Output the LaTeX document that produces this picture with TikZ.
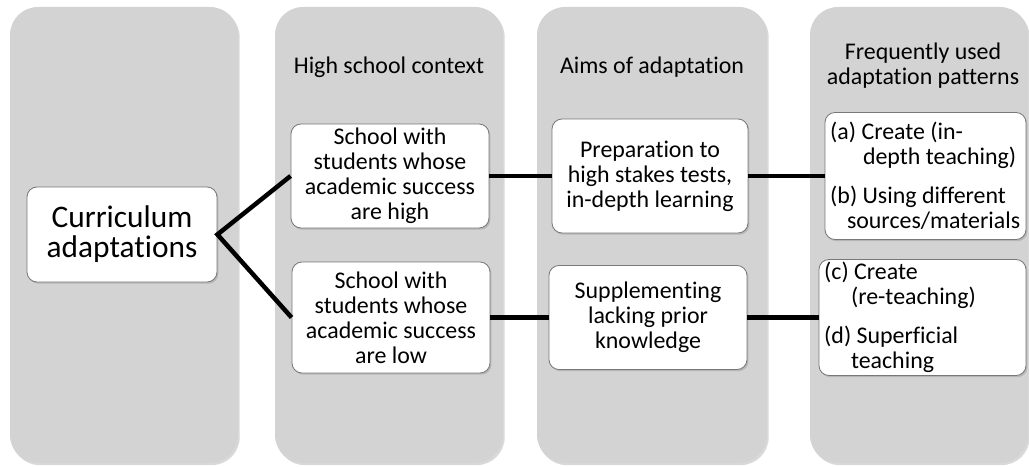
\documentclass[tikz,border=0pt]{standalone}
\usepackage{fontspec}
\setmainfont[Ligatures=NoCommon]{Carlito}
\usepackage{xcolor}
\definecolor{columngray}{RGB}{211, 211, 211}
\definecolor{boxborder}{RGB}{120, 120, 120}
\usetikzlibrary{positioning, shadows}

\begin{document}
\begin{tikzpicture}[
        every node/.style={font=\fontsize{17}{17.8}\selectfont},
        column/.style={rectangle, rounded corners=0.7cm, minimum width=5.7cm, minimum height=11.4cm, fill=columngray, drop shadow={shadow xshift=1.2pt, shadow yshift=-1.5pt, opacity=0.3}},
        box/.style={rectangle, rounded corners=0.25cm, align=center, inner sep=0pt, draw=boxborder, line width=0.6pt, fill=white, drop shadow={shadow xshift=1pt, shadow yshift=-1.2pt, opacity=0.35}},
        pattern/.style={box, align=flush left, inner xsep=0.13cm},
        link/.style={line width=3.2pt},
    ]
        \useasboundingbox (0,0) rectangle (25.725,11.65);

        % Columns
        \node[column] (col1) at (3.1,5.775) {};
        \node[column] (col2) at (9.725,5.775) {};
        \node[column, minimum width=5.75cm] (col3) at (16.3,5.775) {};
        \node[column, minimum width=5.45cm] (col4) at (22.975,5.775) {};

        % Column headings
        \node at (9.725,9.975) (headContext) {High school context};
        \node at (16.3,9.975) (headAims) {Aims of adaptation};
        \node[align=center] at (23.075,10.0) (headPatterns) {Frequently used\\adaptation patterns};

        % Curriculum
        \node[box, minimum width=4.75cm, minimum height=2.375cm, font=\fontsize{22.3}{21.5}\selectfont] at (3.05,5.7875) (curr) {Curriculum\\adaptations};

        % High school context
        \node[box, minimum width=4.95cm, minimum height=2.6cm] at (9.75,7.25) (schoolHigh) {School with\\students whose\\academic success\\are high};
        \node[box, minimum width=4.95cm, minimum height=2.775cm] at (9.775,3.7125) (schoolLow) {School with\\students whose\\academic success\\are low};

        % Aims
        \node[box, minimum width=4.9cm, minimum height=2.85cm] at (16.25,7.25) (aimHigh) {Preparation to\\high stakes tests,\\in-depth learning};
        \node[box, minimum width=4.95cm, minimum height=2.6cm] at (16.2,3.7125) (aimLow) {Supplementing\\lacking prior\\knowledge};

        % Adaptation patterns
        \node[pattern, text width=4.765cm, minimum height=3.175cm] at (23.1375,7.25) (patternHigh) {(a) Create (in-\\\hspace*{0.82cm}depth teaching)\\[0.36cm](b) Using different\\\hspace*{0.42cm}sources/materials};
        \node[pattern, text width=4.915cm, minimum height=2.9cm] at (23.0625,3.7125) (patternLow) {(c) Create\\\hspace*{0.67cm}(re-teaching)\\[0.36cm](d) Superficial\\\hspace*{0.67cm}teaching};

        % Connectors
        \draw[link] (schoolHigh.west) -- (curr.east) -- (schoolLow.west);
        \draw[link] (schoolHigh) -- (aimHigh);
        \draw[link] (aimHigh) -- (patternHigh);
        \draw[link] (schoolLow) -- (aimLow);
        \draw[link] (aimLow) -- (patternLow);

    \end{tikzpicture}
\end{document}
